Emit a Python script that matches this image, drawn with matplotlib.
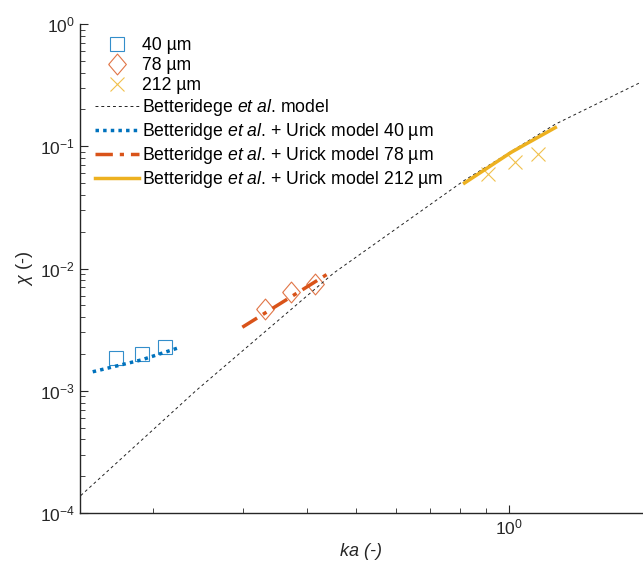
import matplotlib.pyplot as plt
from matplotlib.ticker import LogLocator, NullFormatter

plt.rcParams['font.family'] = ['Liberation Sans', 'DejaVu Sans']
plt.rcParams['mathtext.fontset'] = 'custom'
plt.rcParams['mathtext.rm'] = 'Liberation Sans'
plt.rcParams['mathtext.it'] = 'Liberation Sans:italic'

# measured points, 40 um
ka_40 = [0.1686, 0.1896, 0.2108]
chi_40 = [1.845e-3, 1.99e-3, 2.26e-3]
# measured points, 78 um
ka_78 = [0.3309, 0.3733, 0.4146]
chi_78 = [4.69e-3, 6.45e-3, 7.48e-3]
# measured points, 212 um
ka_212 = [0.909, 1.026, 1.139]
chi_212 = [0.0596, 0.0739, 0.0861]

# Betteridge model
ka_model = [0.1440, 0.2423, 0.4523, 0.8136, 1.231, 1.807]
chi_model = [1.39e-4, 1.0e-3, 9.21e-3, 5.22e-2, 0.1516, 0.332]

# Betteridge + Urick model
ka_u40 = [0.152, 0.1896, 0.2264]
chi_u40 = [1.43e-3, 1.79e-3, 2.28e-3]
ka_u78 = [0.299, 0.447]
chi_u78 = [3.31e-3, 9.42e-3]
ka_u212 = [0.8166, 1.0086, 1.231]
chi_u212 = [0.05006, 0.0893, 0.1422]

blue = '#0072BD'
orange = '#D95319'
yellow = '#EDB120'

# taller diamond like matlab's
diamond = [(-0.85, 0), (0, 1), (0.85, 0), (0, -1), (-0.85, 0)]

fig = plt.figure(figsize=(6.43, 5.72), dpi=100)
ax = fig.add_axes([0.1244, 0.1031, 0.8756, 0.8549])

ax.plot(ka_40, chi_40, 's', mfc='none', mec=blue, ms=9.5, mew=0.8, alpha=0.8, label='40 µm')
ax.plot(ka_78, chi_78, marker=diamond, ls='none', mfc='none', mec=orange, ms=15, mew=0.8,
        alpha=0.8, label='78 µm')
ax.plot(ka_212, chi_212, 'x', color=yellow, ms=10, mew=0.8, alpha=0.8, label='212 µm')
ax.plot(ka_model, chi_model, color='#222222', lw=0.7, ls=(0, (3, 3)),
        label='Betteridege $\\it{et\\ al}$. model')
ax.plot(ka_u40, chi_u40, color=blue, lw=2.5, ls=(0, (1, 1.2)),
        label='Betteridge $\\it{et\\ al}$. + Urick model 40 µm')
ax.plot(ka_u78, chi_u78, color=orange, lw=2.5, ls=(0, (5, 2, 1.2, 2)),
        label='Betteridge $\\it{et\\ al}$. + Urick model 78 µm')
ax.plot(ka_u212, chi_u212, color=yellow, lw=2.5,
        label='Betteridge $\\it{et\\ al}$. + Urick model 212 µm')

ax.set_xscale('log')
ax.set_yscale('log')
ax.set_xlim(0.1435, 1.83)
ax.set_ylim(1e-4, 1)

ax.xaxis.set_minor_formatter(NullFormatter())
ax.yaxis.set_minor_locator(LogLocator(base=10, subs=range(2, 10)))
ax.yaxis.set_minor_formatter(NullFormatter())

for side in ['top', 'right']:
    ax.spines[side].set_visible(False)
for side in ['left', 'bottom']:
    ax.spines[side].set_color('#262626')
    ax.spines[side].set_linewidth(1.0)

ax.tick_params(which='both', direction='in', colors='#262626', labelsize=12.5)
ax.tick_params(which='major', length=6)
ax.tick_params(which='minor', length=3.5)

ax.set_xlabel('ka (-)', fontsize=13, fontstyle='italic', color='#262626')
ax.set_ylabel('$\\chi$ (-)', fontsize=13, color='#262626')

ax.legend(loc='upper left', bbox_to_anchor=(0.008, 0.995), frameon=False,
          fontsize=12.7, handlelength=2.5, handletextpad=0.17, labelspacing=0.17,
          borderaxespad=0.2)

fig.savefig('out.png', dpi=100)
